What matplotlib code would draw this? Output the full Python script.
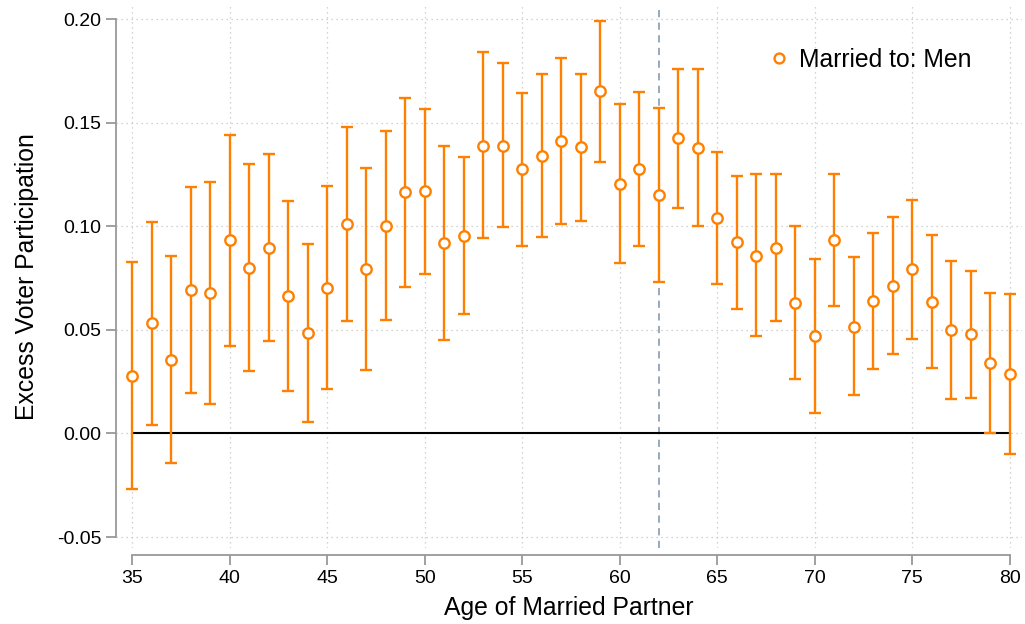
import matplotlib
matplotlib.use("Agg")
import matplotlib.pyplot as plt
import numpy as np

plt.rcParams['font.family'] = ['Liberation Sans', 'DejaVu Sans']
plt.rcParams['axes.unicode_minus'] = False

ages = list(range(35, 81))
estimate = [0.0278, 0.0531, 0.0356, 0.0691, 0.0676, 0.0932, 0.0800, 0.0897, 0.0663, 0.0485,
            0.0703, 0.1010, 0.0794, 0.1003, 0.1164, 0.1170, 0.0919, 0.0955, 0.1389, 0.1389,
            0.1275, 0.1341, 0.1410, 0.1382, 0.1654, 0.1206, 0.1277, 0.1151, 0.1427, 0.1380,
            0.1040, 0.0923, 0.0858, 0.0897, 0.0629, 0.0470, 0.0934, 0.0515, 0.0641, 0.0713,
            0.0794, 0.0636, 0.0498, 0.0478, 0.0338, 0.0287]
upper = [0.0827, 0.1022, 0.0855, 0.1188, 0.1214, 0.1441, 0.1300, 0.1351, 0.1122, 0.0916,
         0.1195, 0.1478, 0.1280, 0.1459, 0.1620, 0.1568, 0.1389, 0.1335, 0.1839, 0.1786,
         0.1644, 0.1736, 0.1812, 0.1737, 0.1993, 0.1588, 0.1649, 0.1571, 0.1758, 0.1758,
         0.1359, 0.1244, 0.1251, 0.1251, 0.1001, 0.0841, 0.1251, 0.0850, 0.0969, 0.1043,
         0.1129, 0.0958, 0.0832, 0.0786, 0.0679, 0.0673]
lower = [-0.0270, 0.0043, -0.0142, 0.0193, 0.0142, 0.0422, 0.0301, 0.0444, 0.0204, 0.0055,
         0.0213, 0.0541, 0.0304, 0.0549, 0.0708, 0.0771, 0.0449, 0.0576, 0.0945, 0.0998,
         0.0905, 0.0947, 0.1010, 0.1027, 0.1312, 0.0821, 0.0906, 0.0729, 0.1090, 0.1001,
         0.0723, 0.0600, 0.0469, 0.0544, 0.0262, 0.0101, 0.0615, 0.0184, 0.0312, 0.0385,
         0.0457, 0.0314, 0.0164, 0.0172, 0.0000, -0.0097]
xticks = [35, 40, 45, 50, 55, 60, 65, 70, 75, 80]
yticks = [-0.05, 0.00, 0.05, 0.10, 0.15, 0.20]
ytick_labels = ["-0.05", "0.00", "0.05", "0.10", "0.15", "0.20"]
cutoff_age = 62
series_label = "Married to: Men"

orange = '#ff8000'
W, H = 1025, 624
fig = plt.figure(figsize=(W / 100, H / 100), dpi=100)
ax = fig.add_axes([116 / W, 1 - 548 / H, (1022 - 116) / W, (548 - 5) / H])

est = np.array(estimate)
err = np.vstack([est - np.array(lower), np.array(upper) - est])

ax.plot([35, 80], [0, 0], color='black', lw=1.5, zorder=2)
ax.axvline(cutoff_age, color='#8fa3b5', lw=1.3, ls=(0, (4, 3)), zorder=1)

ax.errorbar(ages, est, yerr=err, fmt='none', ecolor=orange, elinewidth=1.7,
            capsize=4, capthick=1.7, zorder=3)
ax.plot(ages, est, 'o', mfc='white', mec=orange, mew=1.7, ms=7.5, zorder=4,
        label=series_label)

ax.set_xlim(34.18, 80.62)
ax.set_ylim(-0.0553, 0.2068)
ax.set_xticks(xticks)
ax.set_yticks(yticks)
ax.set_yticklabels(ytick_labels)

ax.grid(True, ls=(0, (1, 3)), color='#c4c4c4', lw=0.9)
ax.set_axisbelow(True)

for s in ['top', 'right']:
    ax.spines[s].set_visible(False)
ax.spines['left'].set_bounds(-0.05, 0.20)
ax.spines['bottom'].set_bounds(35, 80)
ax.spines['bottom'].set_position(('outward', 5))
for s in ['left', 'bottom']:
    ax.spines[s].set_color('#999999')
    ax.spines[s].set_linewidth(1.3)
ax.tick_params(axis='both', colors='#999999', length=7, width=1.3,
               labelcolor='black', labelsize=14)

ax.set_xlabel("Age of Married Partner", fontsize=17.8, labelpad=7)
ax.set_ylabel("Excess Voter Participation", fontsize=17.8, labelpad=13)

leg = ax.legend(loc='upper left', bbox_to_anchor=((764 - 116) / 906, 1 - (48 - 5) / 543),
                frameon=False, fontsize=17.8, handletextpad=0.2, handlelength=1.2,
                borderpad=0, borderaxespad=0, markerscale=0.95)

fig.savefig("out.png", dpi=100)
